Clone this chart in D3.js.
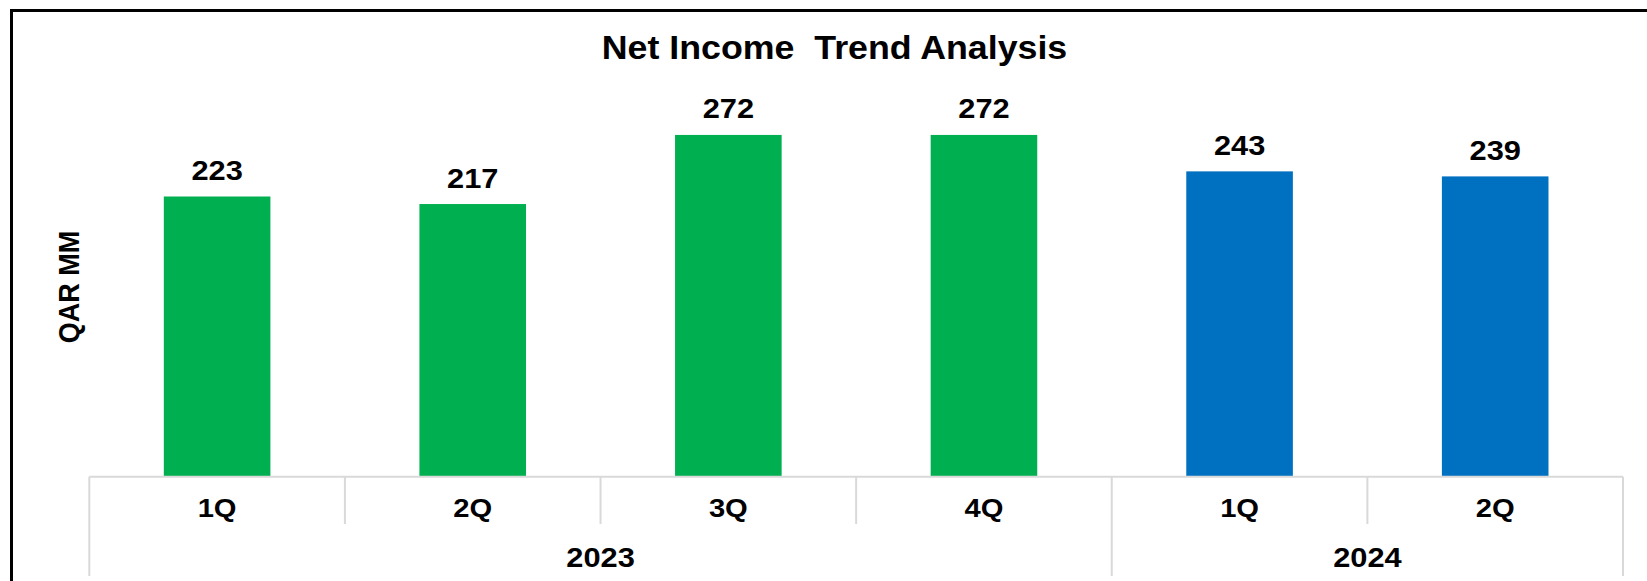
<!DOCTYPE html>
<html>
<head>
<meta charset="utf-8">
<script src="https://cdn.jsdelivr.net/npm/d3@7/dist/d3.min.js"></script>
<style>
  html, body { margin: 0; padding: 0; background: #fff; }
  svg { display: block; }
  text { font-family: "Liberation Sans", Arial, sans-serif; font-weight: bold; fill: #000; }
</style>
</head>
<body>
<svg id="chart" width="1647" height="581"></svg>
<script>
// ---- data ----
const titleText = "Net Income  Trend Analysis";
const yAxisTitle = "QAR MM";
const quarters = ["1Q", "2Q", "3Q", "4Q", "1Q", "2Q"];
const years = ["2023", "2023", "2023", "2023", "2024", "2024"];
const values = [223, 217, 272, 272, 243, 239];
const yearGroups = ["2023", "2024"];
const yearColors = ["#00B050", "#0070C0"];

// ---- layout ----
const W = 1647, H = 581;
const sx = 1.1; // horizontal text stretch of the reference
const axisLeft = 89.3, axisRight = 1623;
const baseY = 476.7;
const svg = d3.select("#chart");

// frame (top and left edges visible)
svg.append("rect")
  .attr("x", 11.5).attr("y", 10.5)
  .attr("width", W + 20).attr("height", H + 20)
  .attr("fill", "none").attr("stroke", "#000").attr("stroke-width", 3);

const idx = d3.range(values.length);
const slot = d3.scaleBand().domain(idx).range([axisLeft, axisRight]);
const x = d3.scaleBand().domain(idx).range([axisLeft, axisRight])
  .paddingInner(0.583).paddingOuter(0.2915);
const y = d3.scaleLinear().domain([0, 300]).range([baseY, baseY - 300 * 1.2565]);
const color = d3.scaleOrdinal().domain(yearGroups).range(yearColors);

// bars
svg.append("g").selectAll("rect").data(idx).join("rect")
  .attr("x", i => x(i))
  .attr("y", i => y(values[i]))
  .attr("width", x.bandwidth())
  .attr("height", i => y(0) - y(values[i]))
  .attr("fill", i => color(years[i]));

// value labels
svg.append("g").selectAll("text").data(idx).join("text")
  .attr("text-anchor", "middle")
  .attr("font-size", 28)
  .attr("transform", i => `translate(${x(i) + x.bandwidth() / 2},${y(values[i]) - 16.5}) scale(${sx},1)`)
  .text(i => values[i]);

// category axis
const axisG = svg.append("g").attr("stroke", "#d9d9d9").attr("stroke-width", 2);
axisG.append("line")
  .attr("x1", axisLeft).attr("x2", axisRight)
  .attr("y1", baseY).attr("y2", baseY);
// dividers
const bounds = idx.map(i => slot(i)).concat([axisRight]);
bounds.forEach((bx, k) => {
  const isYearEdge = k === 0 || k === bounds.length - 1 || (years[k] !== years[k - 1]);
  axisG.append("line")
    .attr("x1", bx).attr("x2", bx)
    .attr("y1", baseY).attr("y2", isYearEdge ? 576 : 524);
});

// quarter labels
svg.append("g").selectAll("text").data(idx).join("text")
  .attr("text-anchor", "middle")
  .attr("font-size", 26.5)
  .attr("transform", i => `translate(${slot(i) + slot.bandwidth() / 2},516.5) scale(${sx},1)`)
  .text(i => quarters[i]);

// year labels
svg.append("g").selectAll("text").data(yearGroups).join("text")
  .attr("text-anchor", "middle")
  .attr("font-size", 28)
  .attr("transform", g => {
    const members = idx.filter(i => years[i] === g);
    const x0 = slot(members[0]);
    const x1 = slot(members[members.length - 1]) + slot.bandwidth();
    return `translate(${(x0 + x1) / 2},566.5) scale(${sx},1)`;
  })
  .text(g => g);

// title
svg.append("text")
  .attr("text-anchor", "middle")
  .attr("font-size", 32.5)
  .style("white-space", "pre")
  .attr("transform", `translate(834.5,59) scale(${sx},1)`)
  .text(titleText);

// y-axis title
svg.append("text")
  .attr("text-anchor", "middle")
  .attr("font-size", 27)
  .attr("transform", `translate(79,287) scale(${sx},1) rotate(-90)`)
  .text(yAxisTitle);
</script>
</body>
</html>
